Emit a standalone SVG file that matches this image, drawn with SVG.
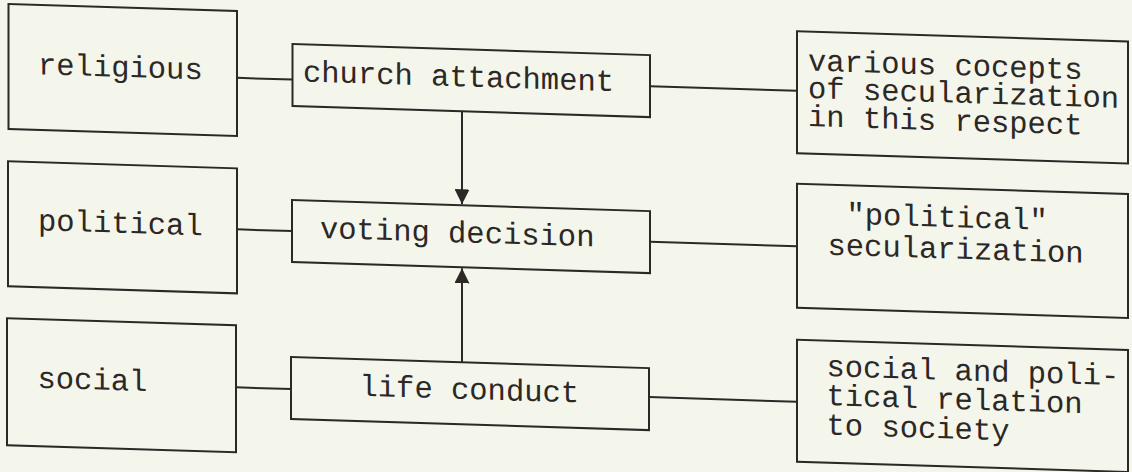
<svg xmlns="http://www.w3.org/2000/svg" width="1132" height="472" viewBox="0 0 1132 472">
<style>
.box{fill:none;stroke:#2b2826;stroke-width:2}
.ln{fill:none;stroke:#2b2826;stroke-width:2}
text{font-family:"Liberation Mono","DejaVu Sans Mono",monospace;font-size:30.5px;fill:#2b2826}
</style>
<defs>
<marker id="ah" viewBox="0 0 10 10" refX="10" refY="5" markerWidth="7.5" markerHeight="7.5" markerUnits="strokeWidth" orient="auto">
<path d="M0,0 L10,5 L0,10 Z" fill="#2b2826"/>
</marker>
</defs>
<rect width="1132" height="472" fill="#f4f5eb"/>
<g transform="skewY(1.776)">
<g id="connectors">
<line class="ln" x1="237" y1="70.5" x2="292.5" y2="70.5"/>
<line class="ln" x1="650" y1="66" x2="797" y2="66"/>
<line class="ln" x1="237" y1="222" x2="292" y2="222"/>
<line class="ln" x1="650" y1="221.5" x2="797" y2="221.5"/>
<line class="ln" x1="236" y1="380" x2="291" y2="380"/>
<line class="ln" x1="649" y1="377" x2="797" y2="377"/>
<line class="ln" x1="462" y1="97" x2="462" y2="190" marker-end="url(#ah)"/>
<line class="ln" x1="462" y1="348" x2="462" y2="254" marker-end="url(#ah)"/>
</g>
<g id="religious">
<rect class="box" x="8.5" y="3.7" width="228.5" height="125"/>
<text x="38" y="73">religious</text>
</g>
<g id="church">
<rect class="box" x="292.5" y="35" width="357.5" height="62"/>
<text x="303" y="72">church attachment</text>
</g>
<g id="concepts">
<rect class="box" x="797" y="6.5" width="331" height="122"/>
<text x="808" y="45.5">various cocepts</text>
<text x="808" y="73">of secularization</text>
<text x="808" y="101">in this respect</text>
</g>
<g id="political">
<rect class="box" x="8" y="161" width="229" height="125"/>
<text x="38" y="229">political</text>
</g>
<g id="voting">
<rect class="box" x="292" y="191" width="358" height="62"/>
<text x="320" y="228">voting decision</text>
</g>
<g id="polsec">
<rect class="box" x="797" y="159" width="331" height="124"/>
<text x="846.5" y="197.5">"political"</text>
<text x="827.5" y="229">secularization</text>
</g>
<g id="social">
<rect class="box" x="7" y="318" width="229" height="127"/>
<text x="37.5" y="386.5">social</text>
</g>
<g id="life">
<rect class="box" x="291" y="348" width="358" height="62"/>
<text x="359.5" y="384.5">life conduct</text>
</g>
<g id="relation">
<rect class="box" x="797" y="315" width="331" height="122"/>
<text x="826.5" y="350.5">social and poli-</text>
<text x="826.5" y="379.5">tical relation</text>
<text x="826.5" y="409">to society</text>
</g>
</g>
</svg>
